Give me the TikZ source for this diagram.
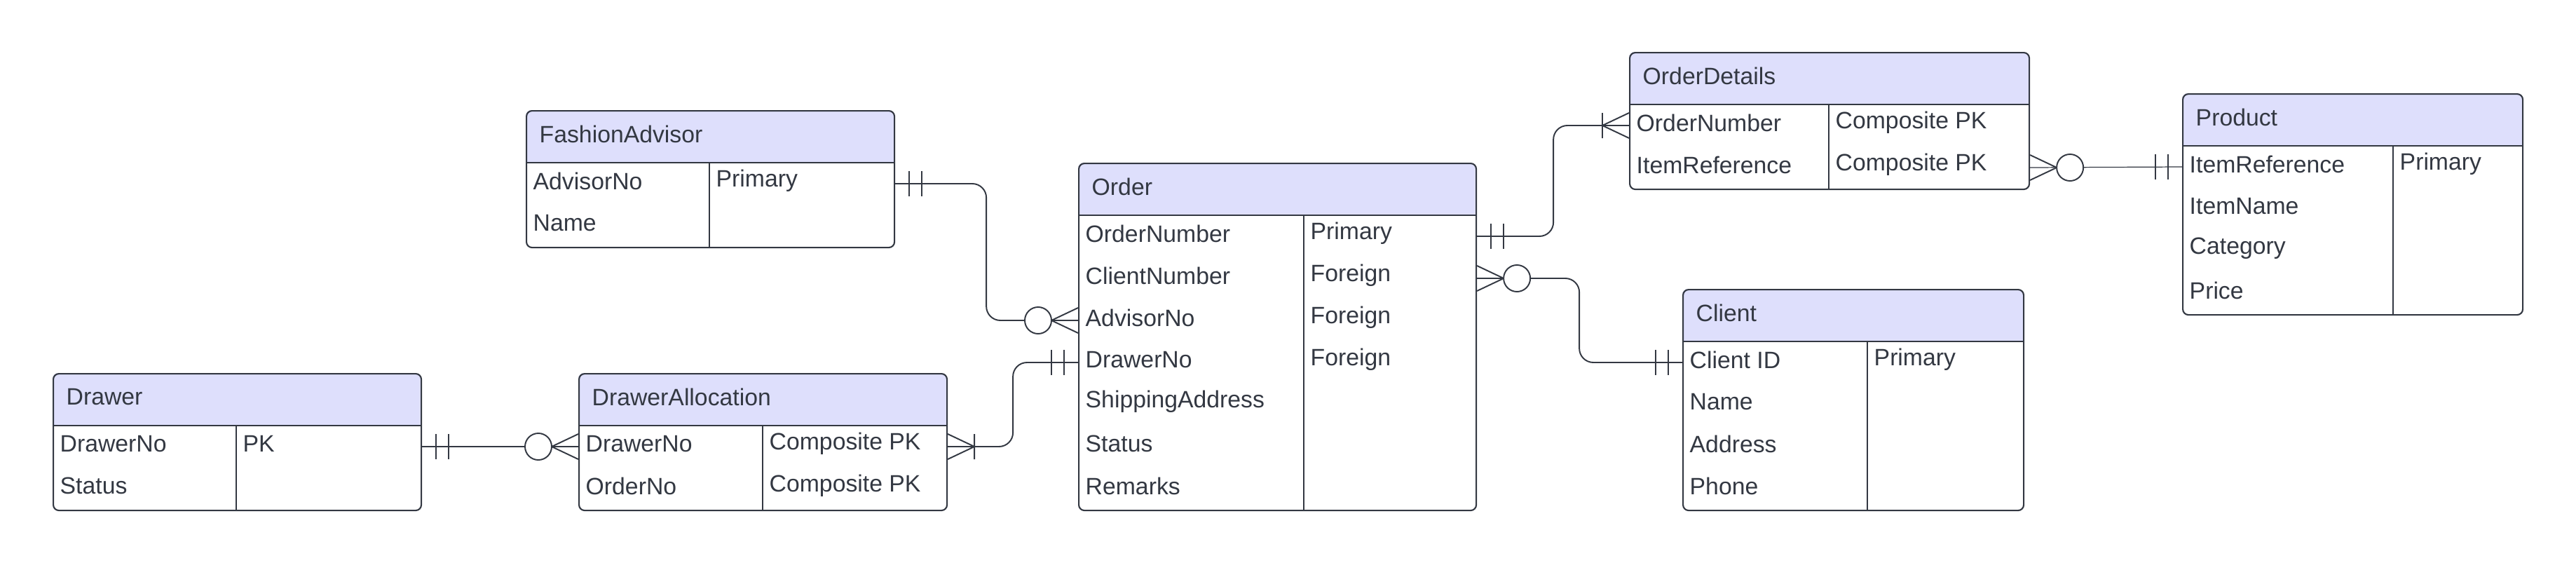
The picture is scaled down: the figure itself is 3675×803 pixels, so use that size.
\documentclass[tikz,border=0pt]{standalone}
\usepackage{fontspec}
\setmainfont{Liberation Sans}
\usetikzlibrary{positioning}
\definecolor{erline}{RGB}{51,56,66}
\definecolor{erhead}{RGB}{222,223,252}
\tikzset{
  tbl/.style={draw=erline, line width=0.6pt, rounded corners=0.08cm, inner sep=0pt, anchor=north west},
  title/.style={anchor=west, inner sep=0pt, text=erline, font=\fontsize{9.6}{11}\selectfont},
  field/.style={title},
  link/.style={draw=erline, line width=0.55pt, rounded corners=0.2cm},
  onlyone/.pic={\draw[erline, line width=0.55pt] (20,-18) -- (20,18) (38,-18) -- (38,18);},
  zeromany/.pic={\draw[erline, line width=0.55pt] (0,-18) -- (38,0) -- (0,18);
    \draw[erline, line width=0.55pt, fill=white] (57,0) circle (0.19cm);},
  onemany/.pic={\draw[erline, line width=0.55pt] (0,-18) -- (38,0) -- (0,18) (38,-18) -- (38,18);}
}

\begin{document}
\begin{tikzpicture}[x=0.01cm, y=-0.01cm]
\useasboundingbox (0,0) rectangle (3675,803);

% tables
\foreach \name/\x/\y/\w/\d/\n/\title in {
  advisor/750/157/525/262/2/FashionAdvisor,
  drawer/75/532/525/262/2/Drawer,
  alloc/825/532/525/263/2/DrawerAllocation,
  order/1538/232/567/322/7/Order,
  details/2324/74/570/285/2/OrderDetails,
  product/3113/133/485/301/4/Product,
  client/2400/412/486/264/4/Client}
{
  \fill[erhead] (\x,\y+75) [rounded corners=0.08cm] -- (\x,\y) -- (\x+\w,\y) [sharp corners] -- (\x+\w,\y+75) -- cycle;
  \node[tbl, minimum width=\w*0.01cm, minimum height=(75+\n*60)*0.01cm] (\name) at (\x,\y) {};
  \draw[erline, line width=0.6pt] (\x,\y+75) -- ++(\w,0);
  \coordinate (\name-div) at (\x+\d,\y+75);
  \draw[erline, line width=0.35pt] (\name-div) -- ++(0,\n*60);
  \node[title] (\name-title) at (\x+19,\y+34) {\title};
}

% first column
\foreach \t/\r/\txt in {advisor/1/AdvisorNo, advisor/2/Name,
  drawer/1/DrawerNo, drawer/2/Status,
  alloc/1/DrawerNo, alloc/2/OrderNo,
  order/1/OrderNumber, order/2/ClientNumber, order/3/AdvisorNo, order/4/DrawerNo,
  order/5/ShippingAddress, order/6/Status, order/7/Remarks,
  details/1/OrderNumber, details/2/ItemReference,
  product/1/ItemReference, product/2/ItemName, product/3/Category, product/4/Price,
  client/1/Client ID, client/2/Name, client/3/Address, client/4/Phone}
  \node[field] (\t-\r) at ([shift={(10,41+\r*60)}]\t.north west) {\txt};

% second column
\foreach \t/\r/\txt in {advisor/1/Primary, drawer/1/PK,
  alloc/1/Composite PK, alloc/2/Composite PK,
  order/1/Primary, order/2/Foreign, order/3/Foreign, order/4/Foreign,
  details/1/Composite PK, details/2/Composite PK,
  product/1/Primary, client/1/Primary}
  \node[field] (\t-\r-key) at ([shift={(9,\r*60-34)}]\t-div) {\txt};

% relationships
\draw[link] (advisor.east |- advisor-1) ++(0,4) -- ++(130,0) |- ([yshift=-0.04cm]order.west |- order-3);
\draw[link] ([yshift=-0.04cm]drawer.east |- drawer-1) -- ([yshift=-0.04cm]alloc.west |- alloc-1);
\draw[link] ([yshift=-0.04cm]alloc.east |- alloc-1) -- ++(93,0) |- ([yshift=-0.04cm]order.west |- order-4);
\draw[link] ([yshift=-0.04cm]order.east |- order-1) -- ++(109,0) |- ([yshift=-0.04cm]details.west |- details-1);
\draw[link] ([yshift=-0.04cm]order.east |- order-2) -- ++(146,0) |- ([yshift=-0.04cm]client.west |- client-1);
\draw[link, line width=0.35pt] ([yshift=-0.04cm]details.east |- details-2) -- ([yshift=-0.04cm]product.west |- product-1);

\pic at ([yshift=-0.04cm]advisor.east |- advisor-1) {onlyone};
\pic[xscale=-1] at ([yshift=-0.04cm]order.west |- order-3) {zeromany};
\pic at ([yshift=-0.04cm]drawer.east |- drawer-1) {onlyone};
\pic[xscale=-1] at ([yshift=-0.04cm]alloc.west |- alloc-1) {zeromany};
\pic at ([yshift=-0.04cm]alloc.east |- alloc-1) {onemany};
\pic[xscale=-1] at ([yshift=-0.04cm]order.west |- order-4) {onlyone};
\pic at ([yshift=-0.04cm]order.east |- order-1) {onlyone};
\pic[xscale=-1] at ([yshift=-0.04cm]details.west |- details-1) {onemany};
\pic at ([yshift=-0.04cm]order.east |- order-2) {zeromany};
\pic[xscale=-1] at ([yshift=-0.04cm]client.west |- client-1) {onlyone};
\pic at ([yshift=-0.04cm]details.east |- details-2) {zeromany};
\pic[xscale=-1] at ([yshift=-0.04cm]product.west |- product-1) {onlyone};
\end{tikzpicture}
\end{document}
